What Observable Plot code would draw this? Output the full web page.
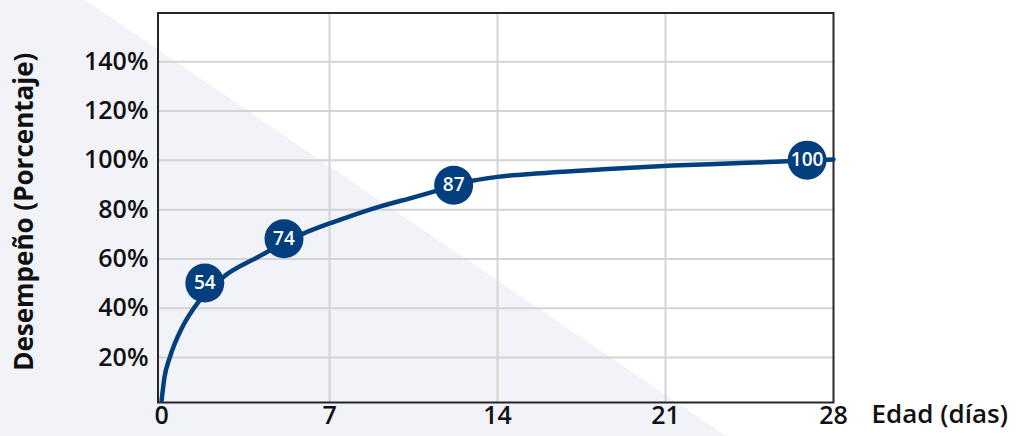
<!DOCTYPE html>
<html>
<head>
<meta charset="utf-8">
<script src="https://cdn.jsdelivr.net/npm/d3@7"></script>
<script src="https://cdn.jsdelivr.net/npm/@observablehq/plot@0.6"></script>
<style>
  html, body { margin: 0; padding: 0; background: #ffffff; }
  #wrap { position: relative; width: 1019px; height: 436px; overflow: hidden; }
  #bg { position: absolute; left: 0; top: 0; width: 1019px; height: 436px; background: #f2f3f8;
        clip-path: polygon(0 0, 85px 0, 726px 436px, 0 436px); }
  #chart { position: absolute; left: 0; top: 0; }
</style>
</head>
<body>
<div id="wrap"><div id="bg"></div><div id="chart"></div></div>
<script>
// Curve samples (age in days, performance in %)
const curveDays = [0, 0.12, 0.34, 0.86, 1.34, 2.59, 3.98, 5.93, 6.97, 7.73, 9.12, 10.5, 11.48, 13.0, 14, 15.8, 18.6, 21.3, 24.4, 28];
const curvePct  = [2.6, 12, 20, 32.3, 40, 52.8, 60.6, 70.4, 74.3, 76.9, 81.3, 85.0, 87.7, 91.8, 93.3, 94.8, 96.5, 97.9, 99.0, 100.4];
// Highlighted points
const pointDays   = [1.8, 5.1, 12.17, 26.9];
const pointPct    = [50.2, 68.2, 89.9, 100.1];
const pointLabels = ["54", "74", "87", "100"];
// Ticks
const xTicks = [0, 7, 14, 21, 28];
const xGrid = [7, 14, 21];
const yTicks = [20, 40, 60, 80, 100, 120, 140];
const xTitle = "Edad (días)";
const yTitle = "Desempeño (Porcentaje)";

const curve = curveDays.map((d, i) => ({day: d, pct: curvePct[i]}));
const points = pointDays.map((d, i) => ({day: d, pct: pointPct[i], label: pointLabels[i]}));

const blue = "#033f7e";
const chart = Plot.plot({
  width: 1019,
  height: 436,
  marginLeft: 157.5,
  marginRight: 186,
  marginTop: 12.5,
  marginBottom: 34,
  style: {background: "transparent", fontFamily: "'Open Sans', sans-serif", color: "#111", overflow: "visible"},
  x: {domain: [-0.15, 28]},
  y: {domain: [1.75, 159.8]},
  marks: [
    Plot.gridY(yTicks, {stroke: "#d3d3d3", strokeOpacity: 1, strokeWidth: 2}),
    Plot.gridX(xGrid, {stroke: "#d3d3d3", strokeOpacity: 1, strokeWidth: 2}),
    Plot.frame({stroke: "#262626", strokeWidth: 2}),
    Plot.axisY(yTicks, {tickSize: 0, tickPadding: 9.5, tickFormat: d => d + "%", fontSize: 25, fontWeight: 600, label: null}),
    Plot.axisX(xTicks, {tickSize: 0, tickPadding: 4, fontSize: 25, fontWeight: 600, label: null}),
    Plot.line(curve, {x: "day", y: "pct", curve: "monotone-x", stroke: blue, strokeWidth: 4.5}),
    Plot.dot(points, {x: "day", y: "pct", r: 19.5, fill: blue}),
    Plot.text(points, {x: "day", y: "pct", text: "label", fill: "white", fontSize: 19, fontWeight: 600}),
    Plot.text([xTitle], {frameAnchor: "bottom-right", text: d => d, textAnchor: "start", lineAnchor: "top", dx: 38, dy: 2, fontSize: 26, fontWeight: 600, fill: "#111"}),
    Plot.text([yTitle], {frameAnchor: "left", text: d => d, textAnchor: "middle", rotate: -90, dx: -133, dy: 4, fontSize: 26, fontWeight: 700, fill: "#111"})
  ]
});
document.getElementById("chart").appendChild(chart);
</script>
</body>
</html>
